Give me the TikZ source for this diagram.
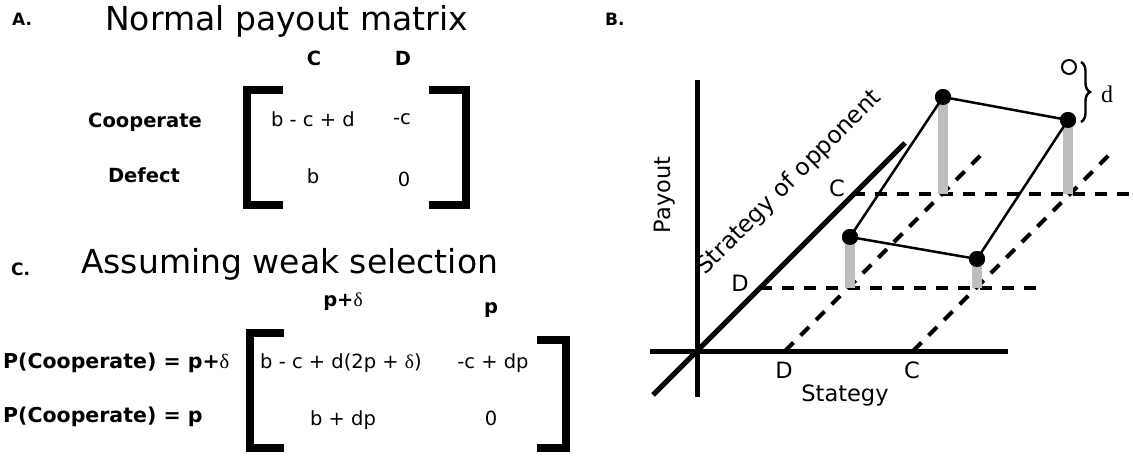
\documentclass[tikz,border=0pt]{standalone}
\usepackage{fontspec}
\setmainfont{DejaVu Sans}
\newfontfamily\serfont{Liberation Serif}
\usetikzlibrary{decorations.pathreplacing}
\definecolor{ink}{HTML}{000000}
\definecolor{bargray}{HTML}{BEBEBE}
\tikzset{
  paneltag/.style={anchor=base west,inner sep=0pt,
                   font=\fontsize{17}{19}\selectfont\bfseries},
  titletext/.style={anchor=base west,inner sep=0pt,
                    font=\fontsize{33}{37}\selectfont},
  rowlabel/.style={anchor=base,inner sep=0pt,
                   font=\fontsize{19.5}{23}\selectfont\bfseries},
  entry/.style={anchor=base,inner sep=0pt,
                font=\fontsize{19.5}{23}\selectfont},
  bracket/.style={draw=ink,line width=8pt,line join=miter,line cap=butt},
  axis/.style={draw=ink,line width=5pt},
  guide/.style={draw=ink,line width=4pt,dash pattern=on 12pt off 10pt},
  axislabel/.style={inner sep=0pt,font=\fontsize{22.5}{26}\selectfont},
  payoff/.style={circle,fill=ink,inner sep=0pt,minimum size=16pt},
  shifted/.style={circle,draw=ink,fill=white,line width=2pt,
                  inner sep=0pt,minimum size=14pt},
  bar/.style={draw=bargray,line width=10pt},
  edge/.style={draw=ink,line width=2.5pt}
}
\begin{document}
\begin{tikzpicture}[x=1pt,y=-1pt]
  \useasboundingbox (0,0) rectangle (1133,458);

  % panel A
  \node[paneltag] (tagA) at (12,25) {A.};
  \node[titletext] (titleA) at (105,30) {Normal payout matrix};
  \node[rowlabel] (colC) at (314,65) {C};
  \node[rowlabel] (colD) at (403,65) {D};
  \node[rowlabel] (rowC) at (145,127) {Cooperate};
  \node[rowlabel] (rowD) at (144,182) {Defect};
  \node[entry] (aCC) at (313,126) {b - c + d};
  \node[entry] (aCD) at (402,124) {-c};
  \node[entry] (aDC) at (313,183) {b};
  \node[entry] (aDD) at (404,186) {0};
  \draw[bracket] (283,90) -- (247,90) -- (247,205) -- (283,205);
  \draw[bracket] (429,90) -- (466,90) -- (466,205) -- (429,205);

  % panel C
  \node[paneltag] (tagC) at (11,275) {C.};
  \node[titletext] (titleC) at (81,273) {Assuming weak selection};
  \node[rowlabel] (colP) at (343,306) {p+{\mdseries\serfont δ}};
  \node[rowlabel] (colQ) at (491,313) {p};
  \node[rowlabel,anchor=base west,font=\fontsize{20.5}{24}\selectfont\bfseries]
    (rowP) at (3,368) {P(Cooperate) = p+{\mdseries\serfont δ}};
  \node[rowlabel,anchor=base west,font=\fontsize{20.5}{24}\selectfont\bfseries]
    (rowQ) at (3,422) {P(Cooperate) = p};
  \node[entry] (cCC) at (341,368) {b - c + d(2p + {\serfont δ})};
  \node[entry] (cCD) at (493,368) {-c + dp};
  \node[entry] (cDC) at (343,425) {b + dp};
  \node[entry] (cDD) at (491,425) {0};
  \draw[bracket] (284,333) -- (250,333) -- (250,448) -- (284,448);
  \draw[bracket] (537,340) -- (566,340) -- (566,448) -- (537,448);

  % panel B
  \node[paneltag] (tagB) at (605,25) {B.};
  \coordinate (o) at (697,351);
  \draw[guide] (760,288) -- (1037,288);
  \draw[guide] (853,194) -- (1133,194);
  \draw[guide] (785,351) -- (981,155);
  \draw[guide] (913,351) -- (1109,155);
  \draw[axis] (697,80) -- (697,397);
  \draw[axis] (650,351) -- (1008,351);
  \draw[axis] (653,395) -- (905,143);

  \node[axislabel,rotate=90] (payout) at (665,195) {Payout};
  \node[axislabel] (stratx) at (845,395) {Stategy};
  \node[axislabel] (xD) at (784,370) {D};
  \node[axislabel] (xC) at (912,370) {C};
  \node[axislabel] (yD) at (740,283) {D};
  \node[axislabel] (yC) at (837,188) {C};
  \node[axislabel,rotate=45,anchor=base west,font=\fontsize{23.5}{27}\selectfont]
    (stratopp) at (705,276) {Strategy of opponent};

  \coordinate (b1) at (943,194);
  \coordinate (b2) at (1068,194);
  \coordinate (b3) at (850,288);
  \coordinate (b4) at (977,288);
  \node[payoff] (p1) at (943,97) {};
  \node[payoff] (p2) at (1068,120) {};
  \node[payoff] (p3) at (850,237) {};
  \node[payoff] (p4) at (977,259) {};
  \draw[bar] (b1) -- (p1.center);
  \draw[bar] (b2) -- (p2.center);
  \draw[bar] (b3) -- (p3.center);
  \draw[bar] (b4) -- (p4.center);
  \draw[edge] (p1.center) -- (p2.center) -- (p4.center) -- (p3.center) -- cycle;
  \node[payoff] at (p1) {};
  \node[payoff] at (p2) {};
  \node[payoff] at (p3) {};
  \node[payoff] at (p4) {};
  \node[shifted] (p0) at (1069,67) {};
  \draw[decorate,decoration={brace,amplitude=9pt},line width=2.4pt]
    (1081,62) -- (1081,122);
  \node[inner sep=0pt,font=\fontsize{24}{28}\selectfont\serfont] (dlab) at (1107,94) {d};
\end{tikzpicture}
\end{document}
